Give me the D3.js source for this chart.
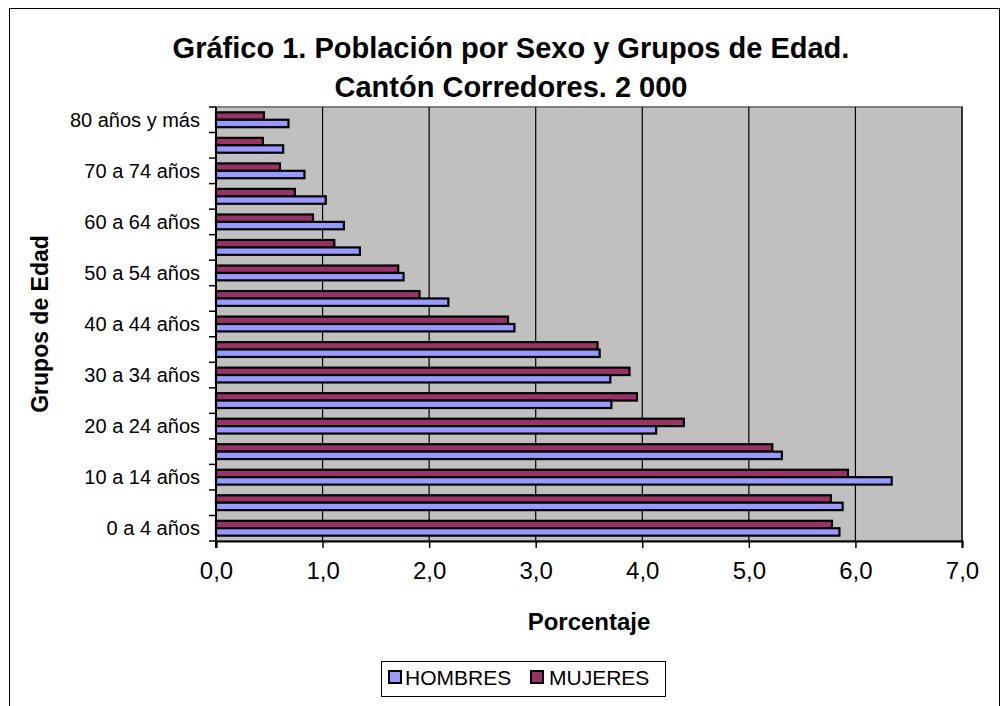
<!DOCTYPE html>
<html>
<head>
<meta charset="utf-8">
<script src="https://cdn.jsdelivr.net/npm/d3@7"></script>
<style>
  html, body { margin: 0; padding: 0; background: #fff; }
  svg { display: block; font-family: "Liberation Sans", Arial, sans-serif; }
</style>
</head>
<body>
<svg id="chart" width="1003" height="706"></svg>
<script>
// ---- Data ----
const categories = [
  "0 a 4 años", "5 a 9 años", "10 a 14 años", "15 a 19 años", "20 a 24 años",
  "25 a 29 años", "30 a 34 años", "35 a 39 años", "40 a 44 años", "45 a 49 años",
  "50 a 54 años", "55 a 59 años", "60 a 64 años", "65 a 69 años", "70 a 74 años",
  "75 a 79 años", "80 años y más"
];
const shownLabels = ["0 a 4 años", "10 a 14 años", "20 a 24 años", "30 a 34 años",
  "40 a 44 años", "50 a 54 años", "60 a 64 años", "70 a 74 años", "80 años y más"];
const hombres = [5.85, 5.88, 6.34, 5.31, 4.13, 3.71, 3.70, 3.60, 2.80, 2.18, 1.76, 1.35, 1.20, 1.03, 0.83, 0.63, 0.68];
const mujeres = [5.78, 5.77, 5.93, 5.22, 4.39, 3.95, 3.88, 3.58, 2.74, 1.91, 1.71, 1.11, 0.91, 0.74, 0.60, 0.44, 0.45];
const series = ["MUJERES", "HOMBRES"];
const xTicks = [0, 1, 2, 3, 4, 5, 6, 7];
const titleLines = ["Gráfico 1. Población por Sexo y Grupos de Edad.", "Cantón Corredores. 2 000"];
const colors = { HOMBRES: "#9999FF", MUJERES: "#993366" };

// ---- Layout ----
const svg = d3.select("#chart");
const plot = { left: 216, right: 962, top: 107, bottom: 541 };

// outer border
svg.append("rect").attr("x", 9.5).attr("y", 8.5).attr("width", 990).attr("height", 760)
  .attr("fill", "#fff").attr("stroke", "#000").attr("stroke-width", 1);

// title
const title = svg.append("text").attr("text-anchor", "middle").attr("font-weight", "bold")
  .attr("font-size", 29).attr("fill", "#000");
titleLines.forEach((t, i) => {
  title.append("tspan").attr("x", 511).attr("y", 58 + i * 39).text(t);
});

const x = d3.scaleLinear().domain([0, 7]).range([plot.left, plot.right]);
const y = d3.scaleBand().domain(categories.slice().reverse()).range([plot.top, plot.bottom]).padding(0);
const ySub = d3.scaleBand().domain(series).range([0, y.bandwidth()]).paddingInner(0).paddingOuter(0.72);

// plot background
svg.append("rect").attr("x", plot.left).attr("y", plot.top)
  .attr("width", plot.right - plot.left).attr("height", plot.bottom - plot.top)
  .attr("fill", "#C0C0C0").attr("stroke", "#808080").attr("stroke-width", 2);

// gridlines
svg.append("g").selectAll("line").data(xTicks.slice(1)).join("line")
  .attr("x1", d => x(d)).attr("x2", d => x(d))
  .attr("y1", plot.top).attr("y2", plot.bottom)
  .attr("stroke", "#000").attr("stroke-width", 1.2);

// bars
const rows = categories.map((c, i) => ({ cat: c, HOMBRES: hombres[i], MUJERES: mujeres[i] }));
const g = svg.append("g");
rows.forEach(r => {
  series.forEach(s => {
    g.append("rect")
      .attr("x", x(0))
      .attr("y", y(r.cat) + ySub(s))
      .attr("width", x(r[s]) - x(0))
      .attr("height", ySub.bandwidth())
      .attr("fill", colors[s])
      .attr("stroke", "#000").attr("stroke-width", 2.2);
  });
});

// x axis
const xAxis = d3.axisBottom(x).tickValues(xTicks).tickSize(7).tickPadding(14)
  .tickFormat(d => d3.format(".1f")(d).replace(".", ","));
const gx = svg.append("g").attr("transform", `translate(0,${plot.bottom})`).call(xAxis);
gx.select(".domain").attr("stroke", "#000").attr("stroke-width", 2);
gx.selectAll(".tick line").attr("stroke", "#000").attr("stroke-width", 1.5);
gx.selectAll("text").attr("font-size", 24).attr("fill", "#000")
  .attr("font-family", "Liberation Sans, Arial, sans-serif");

// y axis: ticks at band boundaries
const boundaries = d3.range(categories.length + 1).map(i => plot.top + i * y.step());
svg.append("g").selectAll("line").data(boundaries).join("line")
  .attr("x1", plot.left - 7).attr("x2", plot.left)
  .attr("y1", d => d).attr("y2", d => d)
  .attr("stroke", "#000").attr("stroke-width", 1.5);
svg.append("line").attr("x1", plot.left).attr("x2", plot.left)
  .attr("y1", plot.top).attr("y2", plot.bottom + 7)
  .attr("stroke", "#000").attr("stroke-width", 2);
svg.append("g").selectAll("text").data(shownLabels).join("text")
  .attr("x", plot.left - 16)
  .attr("y", d => y(d) + y.bandwidth() / 2)
  .attr("dy", "0.36em")
  .attr("text-anchor", "end")
  .attr("font-size", 20).attr("fill", "#000")
  .text(d => d);

// axis titles
svg.append("text").attr("x", (plot.left + plot.right) / 2).attr("y", 630)
  .attr("text-anchor", "middle").attr("font-weight", "bold").attr("font-size", 24)
  .text("Porcentaje");
svg.append("text")
  .attr("transform", `translate(48,${(plot.top + plot.bottom) / 2}) rotate(-90)`)
  .attr("text-anchor", "middle").attr("font-weight", "bold").attr("font-size", 23)
  .text("Grupos de Edad");

// legend
const lg = svg.append("g");
lg.append("rect").attr("x", 381.5).attr("y", 661.5).attr("width", 284).attr("height", 35)
  .attr("fill", "#fff").attr("stroke", "#000").attr("stroke-width", 1);
const legendItems = [
  { name: "HOMBRES", sx: 389, tx: 405 },
  { name: "MUJERES", sx: 531, tx: 549 }
];
legendItems.forEach(it => {
  lg.append("rect").attr("x", it.sx).attr("y", 671).attr("width", 12).attr("height", 12)
    .attr("fill", colors[it.name]).attr("stroke", "#000").attr("stroke-width", 2);
  lg.append("text").attr("x", it.tx).attr("y", 685).attr("font-size", 21)
    .attr("fill", "#000").text(it.name);
});
</script>
</body>
</html>
